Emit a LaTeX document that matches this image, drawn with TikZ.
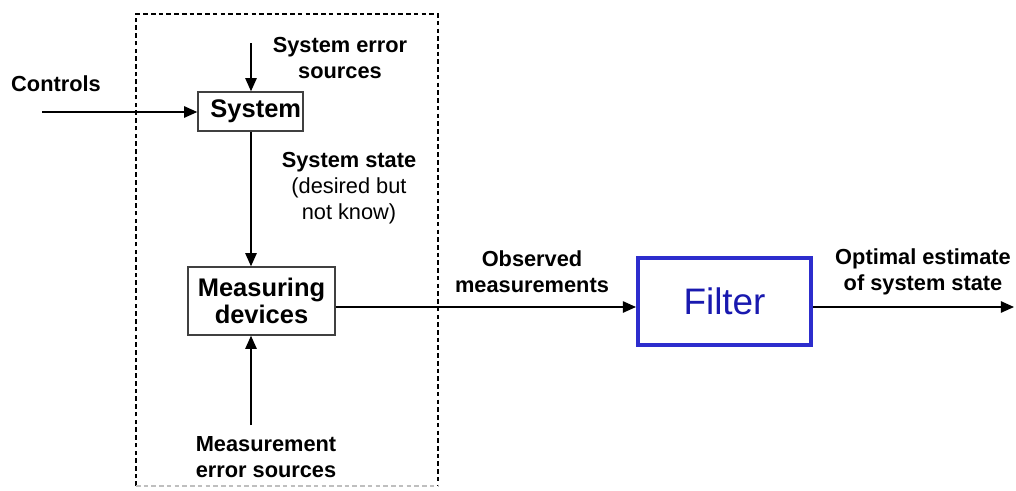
\documentclass[tikz,border=0pt]{standalone}
\usepackage{fontspec}
\setmainfont{Liberation Sans}
\usetikzlibrary{arrows.meta}
\definecolor{filterblue}{RGB}{45,45,205}
\definecolor{filtertext}{RGB}{25,25,175}
\newcommand{\labelFont}[0]{\bfseries\fontsize{12.4}{14.7}\selectfont}

\begin{document}
\begin{tikzpicture}[x=0.02cm, y=-0.02cm, line width=0.85pt, >={Triangle[length=7.5pt,width=6.5pt]}]
  \tikzset{block/.style={draw=black!75, inner sep=0pt, font=\bfseries\fontsize{14.5}{15.5}\selectfont, align=center},
           label text/.style={inner sep=0pt, align=center, font=\labelFont},
           outline/.style={dash pattern=on 2.6pt off 1.8pt, line width=0.7pt}}
  \useasboundingbox (0,0) rectangle (1016,490);
  \draw[outline] (136,486) -- (136,14) -- (438,14) -- (438,486);
  \draw[outline, black!25] (136,486) -- (438,486);
  \node[block, minimum width=2.1cm, minimum height=0.78cm] (sys) at (250.5,111.5) {\raisebox{-2pt}{\hspace*{6pt}System}};
  \node[block, minimum width=2.94cm, minimum height=1.36cm] (meas) at (261.5,301) {Measuring\\devices};
  \node[draw=filterblue, line width=2.3pt, minimum width=3.46cm, minimum height=1.74cm, inner sep=0pt,
        text=filtertext, font=\fontsize{21}{22}\selectfont] (filter) at (724.5,301.5) {Filter};
  \node[label text] (ctrl) at (56,84) {Controls};
  \node[label text] (syserr) at (340,58) {System error\\sources};
  \node[label text, font=\fontsize{12.4}{14.7}\selectfont] (state) at (349,188) {\textbf{System state}\\(desired but\\not know)};
  \node[label text] (measerr) at (266,457) {Measurement\\error sources};
  \node[label text] (obs) at (532,272) {Observed\\measurements};
  \node[label text] (est) at (923,272) {Optimal estimate\\of system state};
  \coordinate (ctrlin) at (42,112);
  \coordinate (errin) at (251,43);
  \coordinate (merrin) at (251,425);
  \coordinate (out) at (1014,307);
  \draw[->] (ctrlin) -- (ctrlin -| sys.west);
  \draw[->] (errin) -- (errin |- sys.north);
  \draw[->] (errin |- sys.south) -- (errin |- meas.north);
  \draw[->] (merrin) -- (merrin |- meas.south);
  \draw[->] (meas.east |- out) -- (filter.west |- out);
  \draw[->] (filter.east |- out) -- (out);
\end{tikzpicture}
\end{document}
